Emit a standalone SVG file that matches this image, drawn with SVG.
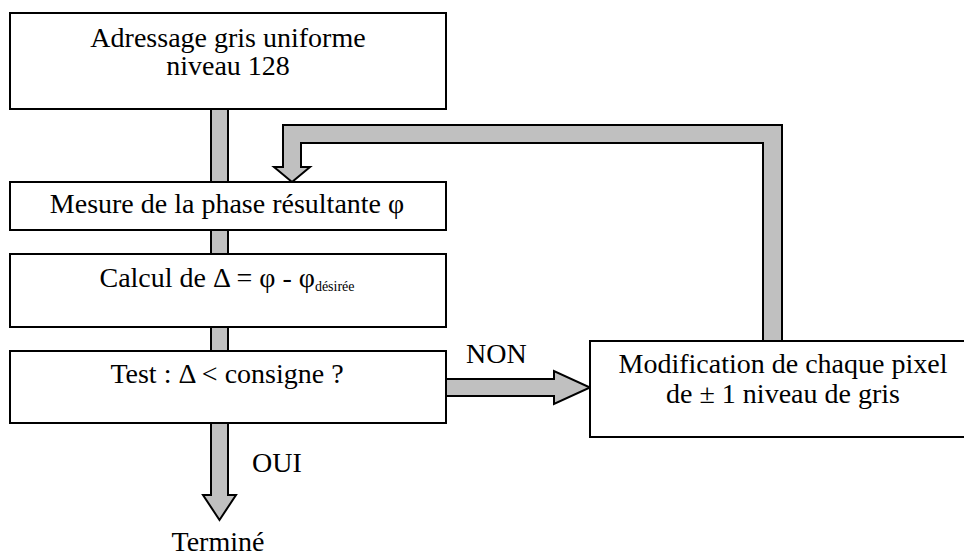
<svg xmlns="http://www.w3.org/2000/svg" width="964" height="558" viewBox="0 0 964 558">
<style>
.box{fill:#fff;stroke:#000;stroke-width:2}
.arr{fill:#c0c0c0;stroke:#000;stroke-width:2;stroke-linejoin:miter}
text{font-family:'Liberation Serif','Tinos','Times New Roman','DejaVu Serif','Noto Serif',serif;font-size:28px;fill:#000}
.c{text-anchor:middle}
.sub{font-size:14px}
</style>
<rect width="964" height="558" fill="#fff"/>
<g id="connectors">
<rect class="arr" x="211" y="109" width="17" height="73"/>
<rect class="arr" x="211" y="230" width="17" height="24"/>
<rect class="arr" x="211" y="327" width="17" height="24"/>
<polygon class="arr" points="211,423 211,495 203,495 219.5,520 236,495 228,495 228,423"/>
<polygon class="arr" points="445,379 554,379 554,371 590,387.5 554,404 554,396 445,396"/>
<polygon class="arr" points="292,182 310,167 301,167 301,143 763,143 763,341 782,341 782,125 283,125 283,167 274,167"/>
</g>
<g id="n1" font-family="Liberation Serif, serif">
<rect class="box" x="10" y="13" width="436" height="96"/>
<text class="c" x="228" y="47" font-family="Liberation Serif, serif">Adressage gris uniforme</text>
<text class="c" x="228" y="75" font-family="Liberation Serif, serif">niveau 128</text>
</g>
<g id="n2">
<rect class="box" x="10" y="182" width="436" height="48"/>
<text class="c" x="227" y="213">Mesure de la phase résultante φ</text>
</g>
<g id="n3">
<rect class="box" x="10" y="254" width="436" height="73"/>
<text class="c" x="227" y="287">Calcul de Δ = φ - φ<tspan class="sub" dy="4">désirée</tspan></text>
</g>
<g id="n4">
<rect class="box" x="10" y="351" width="436" height="72"/>
<text class="c" x="227" y="383">Test : Δ &lt; consigne ?</text>
</g>
<g id="n5">
<rect class="box" x="590" y="341" width="390" height="96"/>
<text class="c" x="783" y="373">Modification de chaque pixel</text>
<text class="c" x="783" y="403">de ± 1 niveau de gris</text>
</g>
<g id="labels">
<text x="466" y="363">NON</text>
<text x="252" y="472">OUI</text>
<text class="c" x="218" y="551">Terminé</text>
</g>
</svg>
